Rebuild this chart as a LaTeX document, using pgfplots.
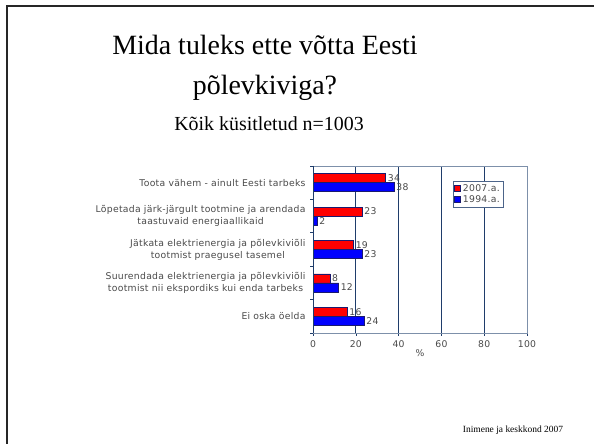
\documentclass[border=0pt]{standalone}
\usepackage{fontspec}
\setmainfont{Liberation Serif}
\newfontfamily\verd[LetterSpace=3]{DejaVu Sans}
\usepackage{pgfplots}
\pgfplotsset{compat=1.18}
\definecolor{gridnavy}{HTML}{1F3D6B}
\definecolor{framecol}{HTML}{7D90AA}
\definecolor{barline}{HTML}{1A1A6E}
\definecolor{labgray}{HTML}{4A4A4A}

\pgfplotstableread{
y  v2007 v1994
4  34    38
3  23    2
2  19    23
1  8     12
0  16    24
}\answers

\begin{document}
\begin{tikzpicture}[x=1bp,y=1bp]
\useasboundingbox (0,0) rectangle (594,444);
\fill[white] (0,0) rectangle (594,444);
\draw[line width=2bp,black!85] (7,0) -- (7,438) -- (594,438);

% titles
\node[anchor=base,font=\fontsize{28}{30}\selectfont] at (265,389) {Mida tuleks ette võtta Eesti};
\node[anchor=base,font=\fontsize{28}{30}\selectfont] at (265,349) {põlevkiviga?};
\node[anchor=base,font=\fontsize{20}{22}\selectfont] at (269,313) {Kõik küsitletud n=1003};
\node[anchor=base,font=\fontsize{9.5}{11}\selectfont] at (513,11) {Inimene ja keskkond 2007};

\begin{axis}[
    at={(313bp,111bp)}, anchor=south west,
    scale only axis, width=214bp, height=167bp,
    xbar, bar width=0.27,
    xmin=0, xmax=100, ymin=-0.5, ymax=4.5,
    xtick={0,20,...,100},
    ytick={-0.5,0.5,1.5,2.5,3.5,4.5},
    y tick label as interval,
    yticklabels={Ei oska öelda,
      {Suurendada elektrienergia ja põlevkiviõli\\tootmist nii ekspordiks kui enda tarbeks},
      {Jätkata elektrienergia ja põlevkiviõli\\tootmist praegusel tasemel},
      {Lõpetada järk-järgult tootmine ja arendada\\taastuvaid energiaallikaid},
      Toota vähem - ainult Eesti tarbeks},
    yticklabel style={align=center, font=\verd\fontsize{9.3}{12.3}\selectfont, text=labgray, xshift=-1bp},
    xticklabel style={font=\verd\fontsize{9.3}{11}\selectfont, text=labgray, yshift=-1bp},
    /pgf/number format/assume math mode=true,
    tick pos=left,
    tick align=outside, major tick length=3bp,
    tick style={gridnavy, line width=0.6bp},
    axis line style={framecol, line width=0.7bp},
    xmajorgrids, grid style={gridnavy, line width=0.8bp},
    xlabel={\%},
    xlabel style={at={(axis description cs:0.5,-0.12)}, anchor=center,
      font=\verd\fontsize{9.3}{11}\selectfont, text=labgray},
    nodes near coords,
    every node near coord/.append style={anchor=west, xshift=-1.5bp,
      font=\verd\fontsize{9.3}{11}\selectfont, text=labgray},
    legend style={at={(rel axis cs:0.654,0.91)}, anchor=north west,
      draw=gridnavy!80, line width=0.6bp, inner sep=1.2bp, row sep=-1.5bp,
      font=\verd\fontsize{9.3}{11}\selectfont, text=labgray},
    legend cell align=left,
    legend image code/.code={\draw[#1, line width=0.5bp] (0bp,-2.8bp) rectangle (6bp,3.2bp);},
]
\addplot[fill=red, draw=barline, line width=0.6bp, bar shift=0.135] table[x=v2007, y=y] {\answers};
\addplot[fill=blue, draw=barline, line width=0.6bp, bar shift=-0.135] table[x=v1994, y=y] {\answers};
\legend{2007.a., 1994.a.}
\draw[framecol, line width=0.8bp] (rel axis cs:1,0) -- (rel axis cs:1,1) -- (rel axis cs:0,1);
\draw[gridnavy, line width=0.8bp] (rel axis cs:0,1) -- (rel axis cs:0,0) -- (rel axis cs:1,0);
\end{axis}
\end{tikzpicture}
\end{document}
